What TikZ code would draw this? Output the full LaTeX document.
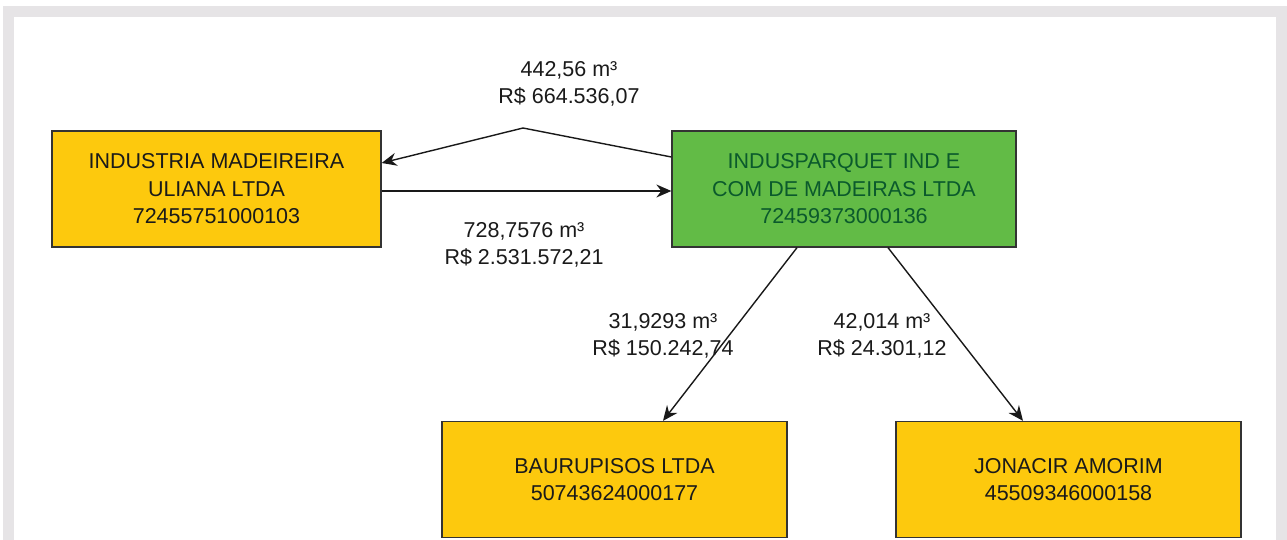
\documentclass[tikz,border=0pt]{standalone}
\usepackage{fontspec}
\setmainfont{Liberation Sans}
\usetikzlibrary{arrows.meta,calc}
\definecolor{frameg}{HTML}{E6E4E6}
\definecolor{boxy}{HTML}{FDC90D}
\definecolor{boxg}{HTML}{62BB46}
\definecolor{txtg}{HTML}{0B5A2C}
\definecolor{edge}{HTML}{333333}
\definecolor{txt}{HTML}{1A1A1A}
\begin{document}
\begin{tikzpicture}[x=1pt,y=-1pt,
  firm/.style={draw=edge,line width=1.3pt,minimum width=329pt,minimum height=116pt,
    inner sep=0pt,align=center,text=txt,font=\fontsize{21.5}{27.5}\selectfont},
  yfirm/.style={firm,fill=boxy},
  gfirm/.style={firm,fill=boxg,text=txtg,minimum width=344pt},
  flow/.style={draw=black!90,line width=1.4pt,-{Stealth[length=15pt,width=13pt,inset=5pt]}},
  lbl/.style={align=center,text=txt,font=\fontsize{21.5}{26.5}\selectfont,inner sep=0pt}]
\useasboundingbox (0,0) rectangle (1287,540);
\fill[frameg] (3,6) rectangle (1287,540);
\fill[white] (14,17) rectangle (1276,540);
\node[yfirm] (uli) at (216.5,189) {INDUSTRIA MADEIREIRA\\ULIANA LTDA\\72455751000103};
\node[gfirm] (ind) at (844,189) {INDUSPARQUET IND E\\COM DE MADEIRAS LTDA\\72459373000136};
\node[yfirm,minimum width=345pt] (bau) at (614.5,479.5) {BAURUPISOS LTDA\\50743624000177};
\node[yfirm,minimum width=345pt] (jon) at (1068.5,479.5) {JONACIR AMORIM\\45509346000158};
\coordinate (peak) at (523,128);
\draw[flow] ($(ind.west)+(0,-32)$) -- (peak) -- ($(uli.east)+(0,-26)$);
\draw[flow] ($(uli.east)+(0,2)$) -- ($(ind.west)+(0,2)$);
\draw[flow] ($(ind.south)+(-47,0)$) -- ($(bau.north)+(48.5,0)$);
\draw[flow] ($(ind.south)+(44,0)$) -- ($(jon.north)+(-45.5,0)$);
\node[lbl] (l1) at (569,84) {442,56 m³\\R\$ 664.536,07};
\node[lbl] (l2) at (524,245) {728,7576 m³\\R\$ 2.531.572,21};
\node[lbl] (l3) at (663,336) {31,9293 m³\\R\$ 150.242,74};
\node[lbl] (l4) at (882,336) {42,014 m³\\R\$ 24.301,12};
\end{tikzpicture}
\end{document}
